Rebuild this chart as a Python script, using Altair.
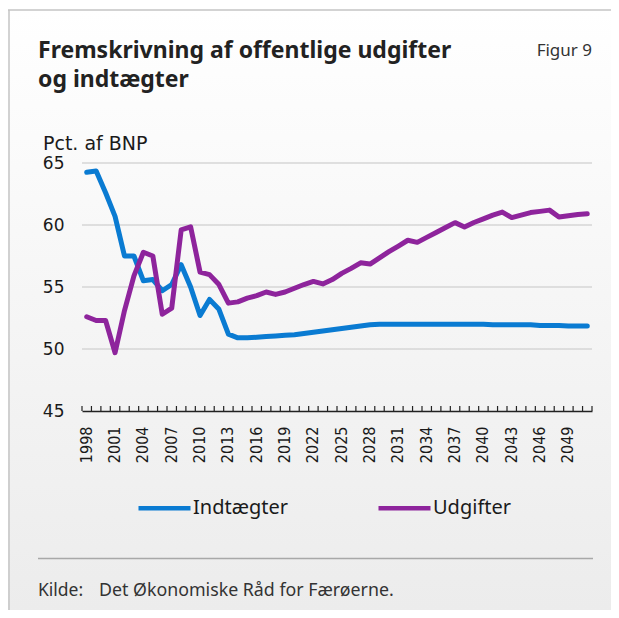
import altair as alt
import pandas as pd

# ---------------- data ----------------
years = list(range(1998, 2052))
indtaegter = [64.25, 64.35, 62.6, 60.7, 57.5, 57.5, 55.5, 55.6, 54.7, 55.2,
              56.8, 55.0, 52.7, 54.0, 53.2, 51.2, 50.9, 50.9,
              50.95, 51.0, 51.05, 51.1, 51.15, 51.25, 51.35, 51.45, 51.55, 51.65,
              51.75, 51.85, 51.95, 52.0,
              52.0, 52.0, 52.0, 52.0, 52.0, 52.0, 52.0, 52.0, 52.0, 52.0, 52.0,
              51.95, 51.95, 51.95, 51.95, 51.95,
              51.9, 51.9, 51.9, 51.85, 51.85, 51.85]
udgifter = [52.6, 52.3, 52.3, 49.7, 53.1, 55.9, 57.8, 57.5, 52.8, 53.3,
            59.6, 59.85, 56.2, 56.0, 55.2, 53.7, 53.8, 54.1, 54.3, 54.6,
            54.4, 54.6, 54.9, 55.2, 55.45, 55.25,
            55.6, 56.1, 56.5, 56.95, 56.85, 57.35, 57.85, 58.3, 58.77, 58.6,
            59.0, 59.4, 59.8, 60.19, 59.84, 60.2, 60.5, 60.8, 61.04, 60.6,
            60.8, 61.0, 61.1, 61.2, 60.64, 60.75, 60.85, 60.9]
series_names = ["Indtægter", "Udgifter"]
series_colors = ["#0a7bd2", "#8e249c"]
y_label_values = [45, 50, 55, 60, 65]
grid_values = [50, 55, 60, 65]
x_label_years = [1998, 2001, 2004, 2007, 2010, 2013, 2016, 2019, 2022,
                 2025, 2028, 2031, 2034, 2037, 2040, 2043, 2046, 2049]

title_lines = ["Fremskrivning af offentlige udgifter", "og indtægter"]
figure_label = "Figur 9"
y_unit = "Pct. af BNP"
source_label = "Kilde:"
source_text = "Det Økonomiske Råd for Færøerne."

# ---------------- tables ----------------
df = pd.DataFrame({
    "year": years + years,
    "value": indtaegter + udgifter,
    "series": [series_names[0]] * len(years) + [series_names[1]] * len(years),
})
df_years = pd.DataFrame({"year": years})
df_grid = pd.DataFrame({"v": grid_values})
one = pd.DataFrame({"k": [0]})

W, H = 510, 248
PAD = {"left": 74, "top": 155, "right": 19, "bottom": 199}
FONT_UI = "Noto Sans"
FONT_AX = "DejaVu Sans"
FONT_AX_X = "DejaVu Sans Condensed, DejaVu Sans"

x_scale = alt.Scale(type="band", paddingInner=0, paddingOuter=0)
y_scale = alt.Scale(domain=[45, 65], nice=False, zero=False)

bg = alt.Chart(one).mark_rect(
    fill=alt.Gradient(
        gradient="linear",
        stops=[alt.GradientStop(color="#ffffff", offset=0),
               alt.GradientStop(color="#ececec", offset=1)],
        x1=0, x2=0, y1=0, y2=1,
    ),
    stroke=None,
).encode(x=alt.value(-74), x2=alt.value(537), y=alt.value(-153), y2=alt.value(447))

frame_top = alt.Chart(one).mark_rule(color="#c4c4c4", strokeWidth=1.5).encode(
    x=alt.value(-74), x2=alt.value(537), y=alt.value(-153))
frame_left = alt.Chart(one).mark_rule(color="#c4c4c4", strokeWidth=1.5).encode(
    x=alt.value(-73), y=alt.value(-153), y2=alt.value(447))

grid = alt.Chart(df_grid).mark_rule(color="#d6d6d6", strokeWidth=1.5).encode(
    y=alt.Y("v:Q", scale=y_scale, title=None),
    x=alt.value(0), x2=alt.value(W),
)

ticks = alt.Chart(df_years).mark_rule(color="#222222", strokeWidth=1.2).encode(
    x=alt.X("year:O", scale=x_scale, bandPosition=0, title=None),
    y=alt.value(H - 5), y2=alt.value(H),
)
last_tick = alt.Chart(df_years).transform_filter(
    alt.datum.year == years[-1]
).mark_rule(color="#222222", strokeWidth=1.2).encode(
    x=alt.X("year:O", scale=x_scale, bandPosition=1, title=None),
    y=alt.value(H - 5), y2=alt.value(H),
)

x_axis = alt.Axis(values=x_label_years, labelAngle=-90, ticks=False,
                  domain=True, domainColor="#222222", domainWidth=1.5,
                  labelFont=FONT_AX_X, labelFontSize=16, labelPadding=15,
                  labelColor="#1a1a1a", title=None, grid=False, zindex=1)
y_axis = alt.Axis(values=y_label_values, grid=False, ticks=False, domain=False,
                  labelFont=FONT_AX, labelFontSize=17, labelPadding=18,
                  labelColor="#1a1a1a", title=None, zindex=1)

lines = alt.Chart(df).mark_line(strokeWidth=5, strokeCap="round", strokeJoin="round").encode(
    x=alt.X("year:O", scale=x_scale, bandPosition=0.5, axis=x_axis),
    y=alt.Y("value:Q", scale=y_scale, axis=y_axis),
    color=alt.Color("series:N", scale=alt.Scale(domain=series_names, range=series_colors),
                    legend=alt.Legend(orient="none", legendX=54, legendY=316.5,
                                      direction="horizontal", title=None,
                                      symbolType="stroke", symbolSize=2704,
                                      symbolStrokeWidth=4.5, labelFont=FONT_UI,
                                      labelFontSize=20, labelColor="#1a1a1a",
                                      labelOffset=0, columnPadding=81, padding=0,
                                      labelLimit=0, zindex=1)),
)


def text(s, x, y, align="left", **kw):
    return alt.Chart(one).mark_text(align=align, baseline="middle", **kw).encode(
        x=alt.value(x), y=alt.value(y), text=alt.value(s))


t1 = text(title_lines[0], -44, -112, font=FONT_UI, fontSize=23, fontWeight="bold", color="#222222")
t2 = text(title_lines[1], -44, -83, font=FONT_UI, fontSize=23, fontWeight="bold", color="#222222")
fig = text(figure_label, 510, -112, align="right", font=FONT_UI, fontSize=17, color="#333333")
unit = text(y_unit, -39, -19, font=FONT_AX, fontSize=19, color="#1a1a1a")
src_rule = alt.Chart(one).mark_rule(color="#a8a8a8", strokeWidth=1.5).encode(
    x=alt.value(-44), x2=alt.value(511), y=alt.value(395.5))
src1 = text(source_label, -44, 428, font=FONT_UI, fontSize=17.5, color="#333333")
src2 = text(source_text, 17, 428, font=FONT_UI, fontSize=17.8, color="#333333")

chart = alt.layer(
    bg, frame_top, frame_left, grid, ticks, last_tick, lines,
    t1, t2, fig, unit, src_rule, src1, src2,
).properties(
    width=W, height=H, padding=PAD,
    autosize=alt.AutoSizeParams(type="none"),
    background="white",
).configure_view(stroke=None)

chart.save("out.html", embed_options={"renderer": "svg", "actions": False})
